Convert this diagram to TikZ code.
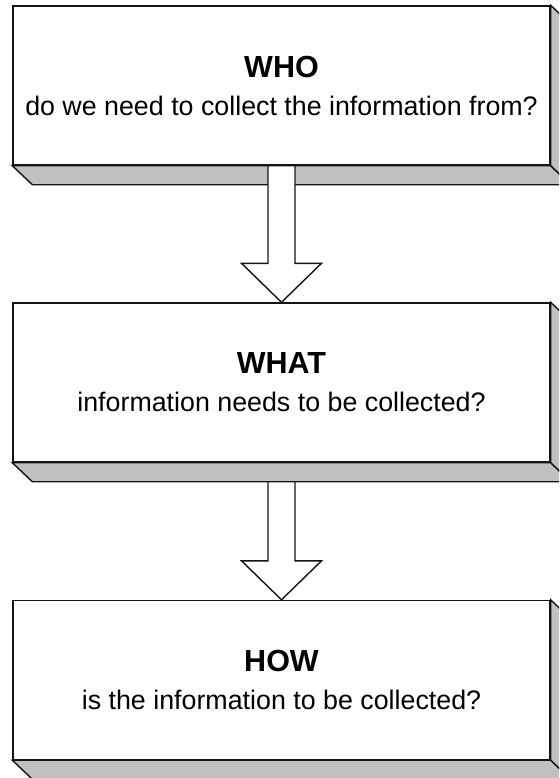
\documentclass[tikz,border=0pt]{standalone}
\usepackage{fontspec}
\setmainfont{Liberation Sans}
\usetikzlibrary{calc}
\definecolor{bevelgray}{RGB}{192,192,192}
\definecolor{edge}{RGB}{20,20,20}
\tikzset{
  stepbox/.style={draw=edge, line width=1.4pt, fill=white, minimum width=537pt,
    minimum height=159pt, inner sep=0pt, align=center,
    font=\fontsize{26.8}{38}\selectfont},
  bevel/.style={draw=edge, line width=1.4pt, fill=bevelgray, line join=miter},
  flowarrow/.style={draw=edge, line width=1.4pt, fill=white, line join=miter},
}
\newcommand{\boxtitle}[1]{{\fontsize{30.5}{38}\selectfont\bfseries #1}}
% 3D slab below and right of a box
\newcommand{\slab}[1]{%
  \draw[bevel] (#1.south west) -- (#1.south east) -- ++(20pt,-19pt) -- ($(#1.south west)+(20pt,-19pt)$) -- cycle;
  \draw[bevel] (#1.north east) -- ++(20pt,-19pt) -- ($(#1.south east)+(20pt,-19pt)$) -- (#1.south east) -- cycle;
}
\begin{document}
\begin{tikzpicture}[x=1pt,y=1pt]
\useasboundingbox (0,0) rectangle (559,-778);
\clip (0,0) rectangle (559,-778);

\node[stepbox] (who) at (281.5,-85.5) {\boxtitle{WHO}\\ do we need to collect the information from?};
\node[stepbox] (what) at (281.5,-382.5) {\boxtitle{WHAT}\\ information needs to be collected?};
\node[stepbox] (how) at (281.5,-680) {\boxtitle{HOW}\\ is the information to be collected?};

\slab{who}
\slab{what}
\slab{how}

% block arrow from WHO to WHAT (starts on the front face edge)
\draw[flowarrow] ($(who.south)+(-13.5pt,0)$) -- ($(who.south)+(13.5pt,0)$)
  -- ($(what.north)+(13.5pt,39pt)$) -- ($(what.north)+(40pt,39pt)$)
  -- (what.north) -- ($(what.north)+(-40pt,39pt)$)
  -- ($(what.north)+(-13.5pt,39pt)$) -- cycle;

% block arrow from WHAT to HOW (starts below the slab)
\draw[flowarrow] ($(what.south)+(-13.5pt,-19pt)$) -- ($(what.south)+(13.5pt,-19pt)$)
  -- ($(how.north)+(13.5pt,39pt)$) -- ($(how.north)+(40pt,39pt)$)
  -- (how.north) -- ($(how.north)+(-40pt,39pt)$)
  -- ($(how.north)+(-13.5pt,39pt)$) -- cycle;
\end{tikzpicture}
\end{document}
